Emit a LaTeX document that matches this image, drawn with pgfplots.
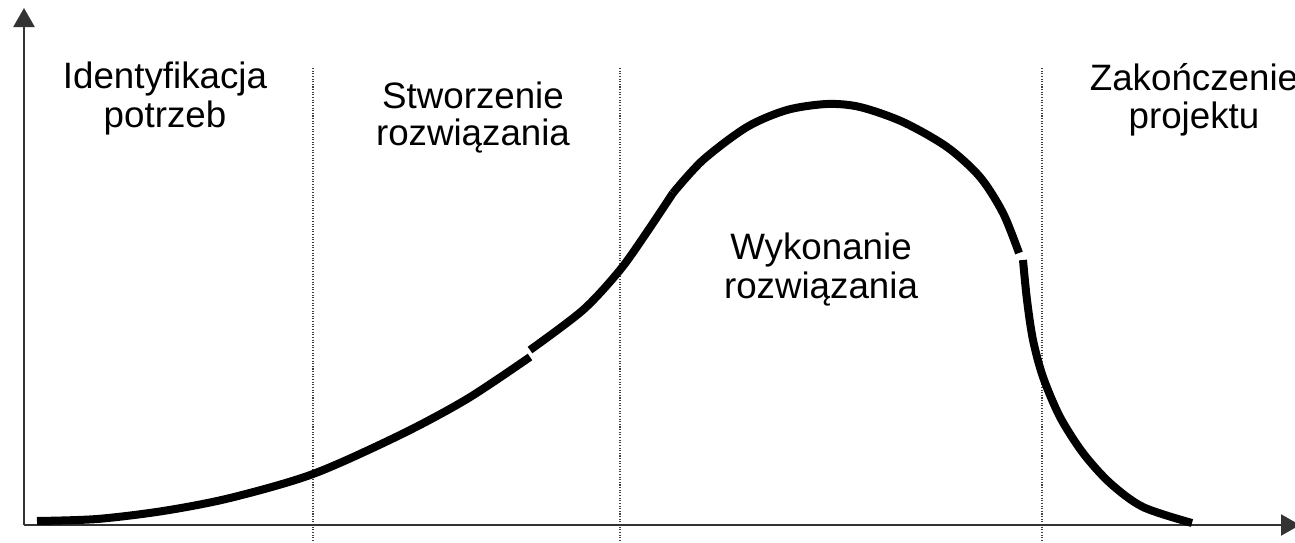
\documentclass[border=0pt]{standalone}
\usepackage{pgfplots}
\pgfplotsset{compat=1.18}
\usepackage{fontspec}
\setmainfont{Liberation Sans}
\usetikzlibrary{arrows.meta}
\tikzset{lbl/.style={anchor=base, inner sep=0pt, font=\fontsize{10.45}{12.5}\selectfont}}
\begin{document}
\begin{tikzpicture}
\begin{axis}[name=ax, scale only axis, width=12.95cm, height=5.42cm,
  xmin=0, xmax=1295, ymin=0, ymax=542, y dir=reverse, hide axis, clip=false]
% dotted phase separators
\draw[black!75, line width=0.3pt, dash pattern=on 0.3pt off 0.45pt] (axis cs:313,68) -- (axis cs:313,542);
\draw[black!75, line width=0.3pt, dash pattern=on 0.3pt off 0.45pt] (axis cs:620,68) -- (axis cs:620,542);
\draw[black!75, line width=0.3pt, dash pattern=on 0.3pt off 0.45pt] (axis cs:1042,68) -- (axis cs:1042,542);
% axes
\draw[black!80, line width=0.22mm, -{Triangle[width=2.1mm,length=1.9mm]}] (axis cs:24,525) -- (axis cs:24,8);
\draw[black!80, line width=0.22mm, -{Triangle[width=2.1mm,length=1.9mm]}] (axis cs:24,525) -- (axis cs:1300,525);
% curve segments
\addplot[black, line width=0.8mm, smooth, line cap=butt] coordinates {
(37,521) (97,519) (163,511) (230,498) (313,474) (400,435) (467,399) (530,357)};
\addplot[black, line width=0.8mm, smooth, line cap=butt] coordinates {
(530,350) (583,310) (620,270) (647,232) (673,193)};
\addplot[black, line width=0.8mm, smooth, line cap=butt] coordinates {
(673,193) (703,160) (747,127) (787,110) (827,104) (860,107) (903,122) (947,147) (980,177) (1003,213) (1019,253)};
\addplot[black, line width=0.8mm, smooth, line cap=butt] coordinates {
(1023,260) (1027,300) (1033,340) (1043,377) (1060,417) (1083,453) (1110,483) (1143,507) (1192,523)};
% labels
\node[lbl] at (axis cs:165,88) {Identyfikacja};
\node[lbl] at (axis cs:165,127) {potrzeb};
\node[lbl] at (axis cs:473,108) {Stworzenie};
\node[lbl] at (axis cs:473,145) {rozwiązania};
\node[lbl] at (axis cs:821,259) {Wykonanie};
\node[lbl] at (axis cs:821,298) {rozwiązania};
\node[lbl] at (axis cs:1194,90) {Zakończenie};
\node[lbl] at (axis cs:1194,128) {projektu};
\end{axis}
\pgfresetboundingbox
\useasboundingbox (ax.south west) rectangle (ax.north east);
\end{tikzpicture}
\end{document}
